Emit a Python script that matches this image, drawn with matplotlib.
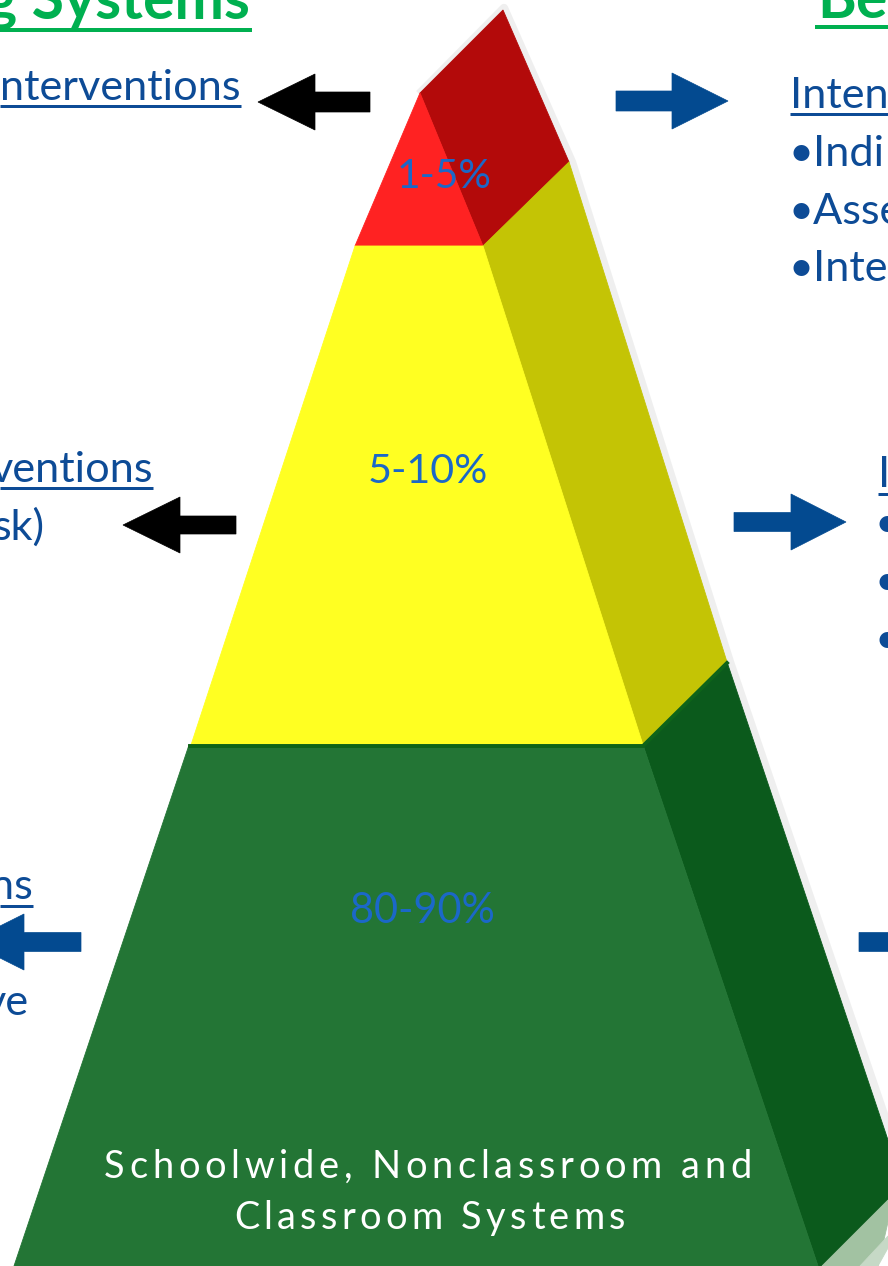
import matplotlib
matplotlib.use("Agg")
import matplotlib.pyplot as plt
from matplotlib.patches import Polygon
from matplotlib.font_manager import FontProperties, findfont, get_font

# tier labels (top -> bottom)
tier_pct = ["1-5%", "5-10%", "80-90%"]
base_lines = ["Schoolwide, Nonclassroom and", "Classroom Systems"]

# side texts (only the parts that show inside the crop)
left_title = "g Systems"
right_title = "Be"
left_heads = ["nterventions", "ventions", "ns"]
left_subs = ["sk)", "ve"]
right_head = "Inten"
right_bullets = ["•Indi", "•Asse", "•Inte"]

W, H, DPI = 888, 1266, 100
FONT = "Lato"

fig = plt.figure(figsize=(W / DPI, H / DPI), dpi=DPI)
ax = fig.add_axes([0, 0, 1, 1])
ax.set_xlim(0, W)
ax.set_ylim(H, 0)
ax.axis("off")


def adv(s, weight="normal", size_px=100):
    f = get_font(findfont(FontProperties(family=FONT, weight=weight)))
    f.set_size(size_px * 72 / DPI, DPI)
    return sum(f.load_char(ord(c)).linearHoriAdvance / 65536 for c in s)


def fit(s, width, weight="normal"):
    # font size in px so that s is `width` px wide
    return 100 * width / adv(s, weight)


def put(x, y, s, px, color, weight="normal", ha="left", under=None):
    ax.text(x, y, s, fontsize=px * 72 / DPI, family=FONT, weight=weight,
            color=color, ha=ha, va="baseline")
    if under:
        ax.plot(under[:2], [under[2]] * 2, color=color, lw=under[3] * 72 / DPI,
                solid_capstyle="butt")


def spaced(s, x0, x1, y, px, color):
    f = get_font(findfont(FontProperties(family=FONT)))
    f.set_size(px * 72 / DPI, DPI)
    advs = [f.load_char(ord(c)).linearHoriAdvance / 65536 for c in s]
    gap = (x1 - x0 - sum(advs)) / (len(s) - 1)
    x = x0
    for c, a in zip(s, advs):
        ax.text(x, y, c, fontsize=px * 72 / DPI, family=FONT, color=color,
                ha="left", va="baseline")
        x += a + gap


def poly(pts, color, z=2):
    ax.add_patch(Polygon(pts, closed=True, fc=color, ec=color, lw=0.6, zorder=z))


# ---- pyramid ----
# soft shadow along the right / top edges
ax.plot([422, 504, 572, 730, 892], [91, 8, 162, 662, 1138], color="#888888",
        alpha=0.13, lw=6, zorder=1)

poly([(420, 93), (503, 10), (569, 162), (483, 246)], "#b30a0a")      # red side
poly([(355, 246), (420, 93), (483, 246)], "#ff2222")                 # red front
poly([(483, 246), (569, 162), (727, 662), (643, 745)], "#c4c405")    # yellow side
poly([(355, 246), (483, 246), (643, 745), (191, 745)], "#ffff22")    # yellow front
poly([(643, 745), (727, 662), (888, 1140), (888, 1200),
      (822, 1266), (818, 1266)], "#0b5a1c")                          # green side
poly([(822, 1266), (888, 1200), (888, 1222), (878, 1266)], "#a2c2a2")
poly([(860, 1266), (888, 1236), (888, 1248), (878, 1266)], "#c6d9c6")
poly([(189, 745), (643, 745), (818, 1266), (14, 1266)], "#237535")   # green front
ax.plot([190, 643, 727], [746, 746, 663], color="#0e6419", lw=2.8, zorder=3,
        solid_joinstyle="miter")

# percent labels
pct_color = "#1b68c8"
pct_pos = [(444, 188, 95), (428, 483, 120), (422, 923, 145)]
for s, (cx, by, w) in zip(tier_pct, pct_pos):
    put(cx, by, s, fit(s, w), pct_color, ha="center")

# base text (letter spaced, white)
spaced(base_lines[0], 104, 752, 1178, 38, "white")
spaced(base_lines[1], 234, 625, 1229, 38, "white")

# ---- arrows ----
def arrow(tip, back, hy, shaft_end, sh, color):
    # horizontal block arrow; tip=(x,y), back = x of head base
    tx, ty = tip
    pts = [(tx, ty), (back, ty - hy), (back, ty - sh), (shaft_end, ty - sh),
           (shaft_end, ty + sh), (back, ty + sh), (back, ty + hy)]
    ax.add_patch(Polygon(pts, closed=True, fc=color, ec=color, lw=0.5, zorder=4))


blue = "#034a90"
arrow((258, 102), 315, 28, 370, 10, "black")
arrow((123, 525), 180, 28, 236, 9, "black")
arrow((728, 101), 672, 28, 616, 10, blue)
arrow((846, 522), 791, 28, 734, 9.5, blue)
arrow((-32, 942), 24, 28, 81, 9.5, blue)
arrow((960, 942), 905, 28, 859, 9.5, blue)

# ---- side texts ----
green = "#00b050"
txt = "#0d4b96"
tpx = fit(left_title.split()[1], 218, "bold")
put(250, 19, left_title, tpx, green, weight="bold", ha="right", under=(0, 252, 30, 4))
put(817, 18, right_title, tpx, green, weight="bold", under=(815, 888, 27, 4))

lpx = fit(left_heads[0], 241)
put(0, 100, left_heads[0], lpx, txt, under=(0, 241, 106, 3))
put(153, 482, left_heads[1], lpx, txt, ha="right", under=(0, 153, 488, 3))
put(33, 899, left_heads[2], lpx, txt, ha="right", under=(0, 33, 906, 3))
put(45, 540, left_subs[0], lpx, txt, ha="right")
put(29, 1015, left_subs[1], lpx, txt, ha="right")

put(790, 108, right_head, lpx, txt, under=(790, 888, 114, 3))
for i, s in enumerate(right_bullets):
    put(788, 166 + 57.5 * i, s, lpx, txt)
put(878, 487, "I", lpx, txt, under=(878, 888, 494, 3))
for i in range(3):
    put(874, 537 + 58 * i, "•", lpx, txt)

fig.savefig("out.png", dpi=DPI)
